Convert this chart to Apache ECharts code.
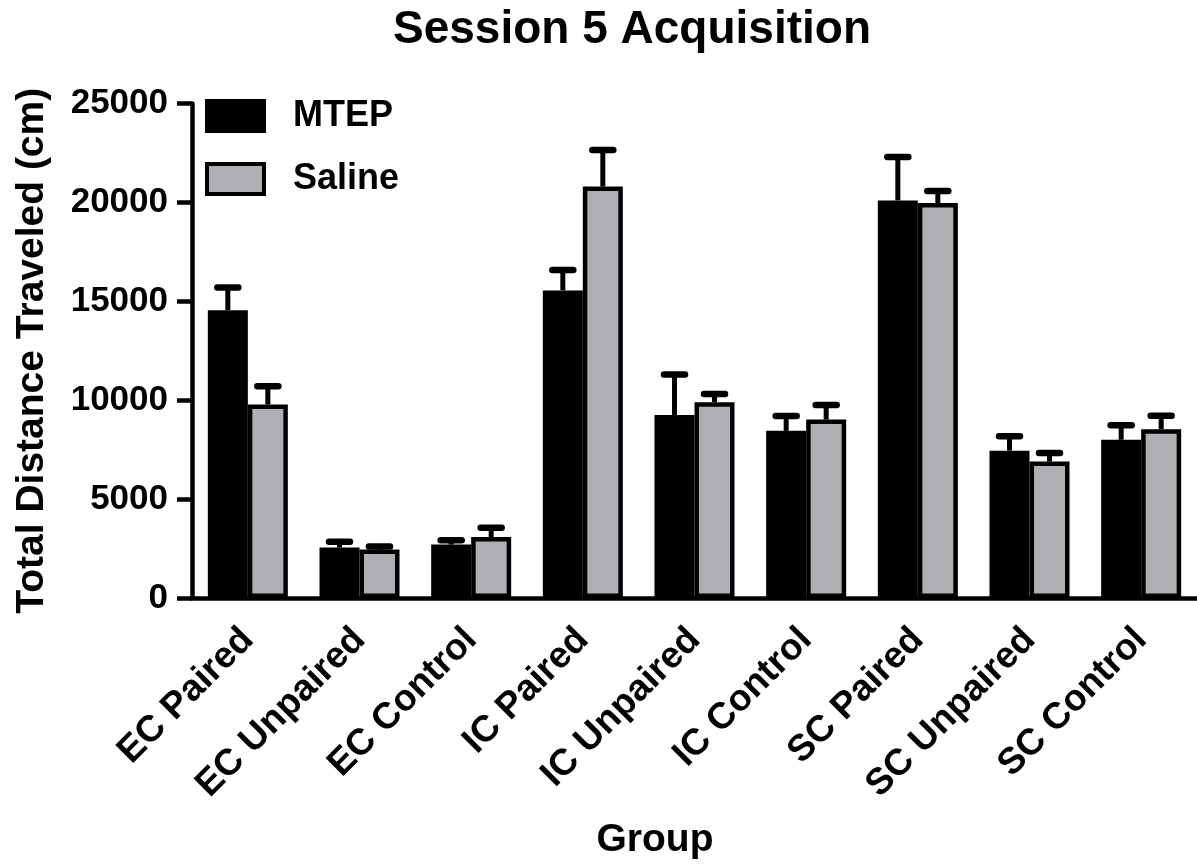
<!DOCTYPE html>
<html>
<head>
<meta charset="utf-8">
<script src="https://cdn.jsdelivr.net/npm/echarts@6/dist/echarts.min.js"></script>
<style>html,body{margin:0;padding:0;background:#fff;}#main{width:1197px;height:867px;}</style>
</head>
<body>
<div id="main"></div>
<script>
const categories = ['EC Paired','EC Unpaired','EC Control','IC Paired','IC Unpaired','IC Control','SC Paired','SC Unpaired','SC Control'];
const mtepMean = [14550, 2550, 2700, 15550, 9250, 8450, 20100, 7450, 8000];
const mtepErr  = [1150, 300, 220, 1030, 2050, 750, 2200, 730, 730];
const salineMean = [9780, 2450, 3080, 20800, 9900, 9020, 19970, 6900, 8530];
const salineErr  = [920, 150, 470, 1850, 410, 740, 610, 430, 680];
const yTicks = [0, 5000, 10000, 15000, 20000, 25000];

const FONT = "'Liberation Sans', Arial, sans-serif";
const GRAY = '#aeafb3';
const BAR_W = 40;

function errorSeries(name, means, errs, offset) {
  return {
    type: 'custom',
    name: name + ' error',
    z: 5,
    silent: true,
    data: categories.map((c, i) => [i, means[i], errs[i]]),
    renderItem: function (params, api) {
      const x = api.value(0), v = api.value(1), e = api.value(2);
      const base = api.coord([x, v]);
      const top = api.coord([x, v + e]);
      const cx = base[0] + offset;
      return {
        type: 'group',
        children: [
          { type: 'line', shape: { x1: cx, y1: base[1], x2: cx, y2: top[1] }, style: { stroke: '#000', lineWidth: 5 } },
          { type: 'line', shape: { x1: cx - 10.5, y1: top[1], x2: cx + 10.5, y2: top[1] }, style: { stroke: '#000', lineWidth: 6.5, lineCap: 'round' } }
        ]
      };
    }
  };
}

const chart = echarts.init(document.getElementById('main'), null, { renderer: 'canvas' });
chart.setOption({
  backgroundColor: '#ffffff',
  animation: false,
  textStyle: { fontFamily: FONT },
  title: [
    { text: 'Session 5 Acquisition', left: 632, top: 7, textAlign: 'center', padding: 0,
      textStyle: { fontFamily: FONT, fontSize: 46, fontWeight: 'bold', color: '#000' } },
    { text: 'Group', left: 655, top: 821, textAlign: 'center', padding: 0,
      textStyle: { fontFamily: FONT, fontSize: 39, fontWeight: 'bold', color: '#000' } }
  ],
  legend: {
    orient: 'vertical', left: 205, top: 98, padding: 0,
    itemWidth: 57, itemHeight: 30, itemGap: 27,
    icon: 'rect',
    data: ['MTEP', 'Saline'],
    itemStyle: { borderColor: '#000', borderWidth: 4 },
    textStyle: { fontFamily: FONT, fontSize: 36, fontWeight: 'bold', color: '#000', padding: [0, 0, 0, 24] }
  },
  grid: { left: 192, right: 0, top: 103.5, bottom: 269, containLabel: false },
  xAxis: {
    type: 'category',
    data: categories,
    axisLine: { lineStyle: { color: '#000', width: 4.5 } },
    axisTick: { alignWithLabel: true, length: 14, lineStyle: { color: '#000', width: 4.5 } },
    axisLabel: { rotate: 45, margin: 36, interval: 0, fontFamily: FONT, fontSize: 37, fontWeight: 'bold', color: '#000' },
    splitLine: { show: false }
  },
  yAxis: {
    type: 'value',
    min: yTicks[0], max: yTicks[yTicks.length - 1], interval: 5000,
    name: 'Total Distance Traveled (cm)',
    nameLocation: 'middle', nameGap: 140,
    nameTextStyle: { fontFamily: FONT, fontSize: 39, fontWeight: 'bold', color: '#000' },
    axisLine: { show: true, lineStyle: { color: '#000', width: 4.5 } },
    axisTick: { show: true, length: 15, lineStyle: { color: '#000', width: 4.5 } },
    axisLabel: { margin: 24, fontFamily: FONT, fontSize: 35, fontWeight: 'bold', color: '#000',
      formatter: function (v) { return String(v); } },
    splitLine: { show: false }
  },
  series: [
    { name: 'MTEP', type: 'bar', data: mtepMean, barWidth: BAR_W, barGap: '0%', z: 2,
      itemStyle: { color: '#000', borderColor: '#000', borderWidth: 4.5 } },
    { name: 'Saline', type: 'bar', data: salineMean, barWidth: BAR_W, barGap: '0%', z: 3,
      itemStyle: { color: GRAY, borderColor: '#000', borderWidth: 4.5 } },
    errorSeries('MTEP', mtepMean, mtepErr, -BAR_W / 2),
    errorSeries('Saline', salineMean, salineErr, BAR_W / 2)
  ]
});
</script>
</body>
</html>
